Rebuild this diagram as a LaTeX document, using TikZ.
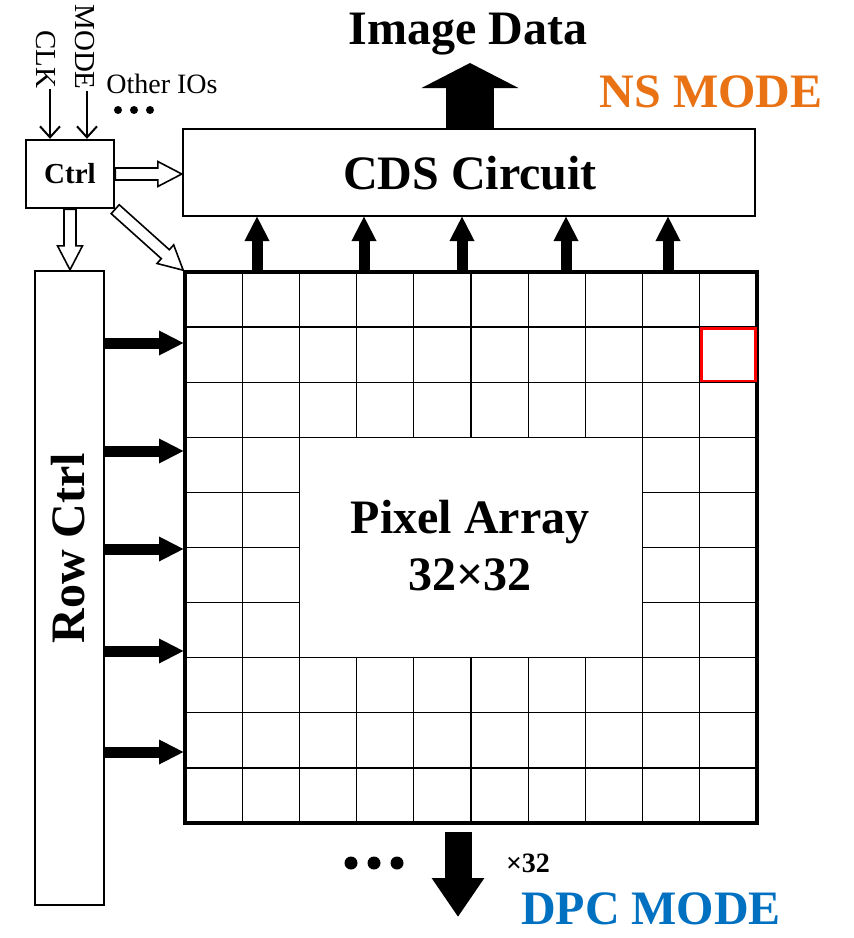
\documentclass[tikz,border=0pt]{standalone}
\usepackage{fontspec}
\setmainfont{Liberation Serif}
\usetikzlibrary{calc,arrows.meta}
\definecolor{nsorange}{RGB}{232,114,20}
\definecolor{dpcblue}{RGB}{0,112,192}
\newcommand\hollowarrow[2]{%
  \coordinate (hA) at (#1);
  \coordinate (hB) at (#2);
  \coordinate (hH) at ($(hB)!24pt!(hA)$);
  \draw[hollow] ($(hA)!6pt!90:(hB)$) -- ($(hH)!6pt!90:(hB)$) -- ($(hH)!12.5pt!90:(hB)$) -- (hB)
    -- ($(hH)!12.5pt!-90:(hB)$) -- ($(hH)!6pt!-90:(hB)$) -- ($(hA)!6pt!-90:(hB)$) -- cycle;}
\begin{document}
\begin{tikzpicture}[x=1pt,y=-1pt,
  box/.style={draw=black,line width=2.4pt,fill=white,inner sep=0pt},
  bigtext/.style={font=\fontsize{48}{57}\selectfont\bfseries},
  midtext/.style={font=\fontsize{28}{32}\selectfont},
  hollow/.style={draw=black,fill=white,line width=1.6pt,line join=miter},
  bigarr/.style={line width=11pt,-{Triangle[length=25pt,width=23pt]}},
  thinarr/.style={line width=2pt,-{Straight Barb[length=11pt,width=20pt]}},
  gridline/.style={line width=1.3pt,draw=black}]
\useasboundingbox (0,0) rectangle (854,938);

% pixel array grid
\foreach \i in {1,...,9} {
  \draw[gridline] ({185+57.2*\i},272) -- ({185+57.2*\i},823);
  \draw[gridline] (185,{272+55.1*\i}) -- (757,{272+55.1*\i});
}
\node[draw=black,line width=1.3pt,fill=white,minimum width=343.2pt,minimum height=220.4pt,inner sep=0pt] (inner) at (471,547.5) {};
\node[draw=black,line width=3.6pt,minimum width=572pt,minimum height=551pt,inner sep=0pt] (pa) at (471,547.5) {};
\draw[red,line width=2.6pt] (701.2,328.6) rectangle (755.4,380.8);
\node[bigtext,anchor=base] (pa1) at (470,533) {Pixel Array};
\node[bigtext,anchor=base] (pa2) at (470,590) {32×32};

% boxes
\node[box,minimum width=572pt,minimum height=87pt] (cds) at (469,172.5) {};
\node[bigtext] (cdst) at (470,173) {CDS Circuit};
\node[box,minimum width=88pt,minimum height=68pt] (ctrl) at (70,174) {};
\node[font=\fontsize{29}{32}\selectfont\bfseries] (ctrlt) at (70,174) {Ctrl};
\node[box,minimum width=69pt,minimum height=634pt] (rowctrl) at (69.5,588) {};
\node[bigtext,rotate=90] (rowt) at (68,548) {Row Ctrl};

% inputs of ctrl
\node[font=\fontsize{29}{32}\selectfont,rotate=-90] (clk) at (46,59) {CLK};
\node[font=\fontsize{29}{32}\selectfont,rotate=-90] (mode) at (85,47) {MODE};
\coordinate (clkA) at (50,89);
\coordinate (modeA) at (87,91);
\draw[thinarr] (clkA) -- (ctrl.north -| clkA);
\draw[thinarr] (modeA) -- (ctrl.north -| modeA);
\node[midtext,anchor=base] (oio) at (162,93) {Other IOs};
\foreach \x in {118,134,150} \fill (\x,110) circle (4pt);

% hollow arrows from ctrl
\hollowarrow{ctrl.east}{ctrl.east -| cds.west}
\hollowarrow{ctrl.south}{ctrl.south |- rowctrl.north}
\hollowarrow{ctrl.south east}{pa.north west}

% column arrows
\foreach \x [count=\i] in {257,364,462,566,668} {
  \coordinate (cb\i) at (\x,272);
  \coordinate (ct\i) at (\x,216);
  \draw[bigarr] (cb\i) -- (ct\i);
}
% row arrows
\foreach \y [count=\i] in {343,451,549,651,752} {
  \coordinate (rl\i) at (104,\y);
  \coordinate (rr\i) at (184,\y);
  \draw[bigarr] (rl\i) -- (rr\i);
}

% image data arrow
\coordinate (imgtip) at (470,63);
\coordinate (imgbase) at (470,129);
\draw[line width=48pt,-{Triangle[length=25pt,width=96pt]}] (imgbase) -- (imgtip);
\node[bigtext,anchor=base] (imgt) at (468,44) {Image Data};
\node[bigtext,text=nsorange] (ns) at (711,92) {NS MODE};

% bottom
\coordinate (botA) at (458,832);
\coordinate (botB) at (458,917);
\draw[line width=27pt,-{Triangle[length=39pt,width=50pt]}] (botA) -- (botB);
\foreach \x in {351,374,397} \fill (\x,863) circle (6.5pt);
\node[font=\fontsize{28}{32}\selectfont\bfseries] (x32) at (528,863) {×32};
\node[bigtext,text=dpcblue,anchor=base,inner sep=0pt] (dpc) at (651,924) {DPC MODE};
\end{tikzpicture}
\end{document}
